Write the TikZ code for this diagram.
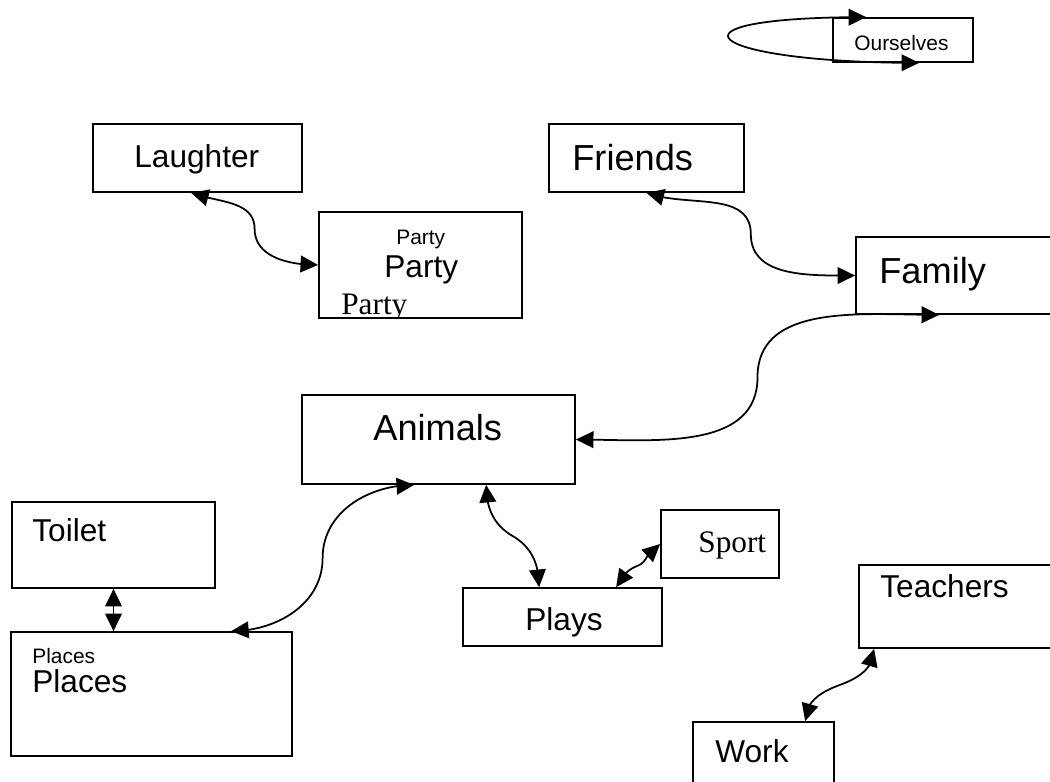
\documentclass[tikz,border=0pt]{standalone}
\usepackage{fontspec}
\newfontfamily\arialfont{Liberation Sans}
\newfontfamily\timesfont{Liberation Serif}
\usetikzlibrary{arrows.meta,bending,calc,fit}
\tikzset{
  box/.style={draw, line width=1pt, inner sep=0},
  txt/.style={inner sep=0, anchor=base west, font=\arialfont\fontsize{18}{21}\selectfont},
  bigtxt/.style={txt, font=\arialfont\fontsize{20.6}{24}\selectfont},
  smalltxt/.style={txt, font=\arialfont\fontsize{11.9}{14}\selectfont},
  sertxt/.style={txt, font=\timesfont\fontsize{17.8}{21}\selectfont},
  link/.style={line width=1pt, {Triangle[length=10pt,width=9.5pt]}-{Triangle[length=10pt,width=9.5pt]}},
}
\begin{document}
\begin{tikzpicture}[x=0.02cm,y=0.02cm]
\useasboundingbox (0,0) rectangle (1050,-781);
\clip (0,0) rectangle (1050,-781);
% boxes
\node[box, fit={(833,-18) (973,-62)}] (ourselves) {};
\node[box, fit={(93,-124) (302,-192)}] (laughter) {};
\node[box, fit={(319,-212) (522,-318)}] (party) {};
\node[box, fit={(549,-124) (744,-192)}] (friends) {};
\node[box, fit={(856,-237) (1070,-314)}] (family) {};
\node[box, fit={(302,-395) (575,-484)}] (animals) {};
\node[box, fit={(12,-502) (215,-588)}] (toilet) {};
\node[box, fit={(11,-632) (292,-756)}] (places) {};
\node[box, fit={(463,-588) (662,-646)}] (plays) {};
\node[box, fit={(661,-510) (779,-578)}] (sport) {};
\node[box, fit={(859,-565) (1070,-648)}] (teachers) {};
\node[box, fit={(693,-722) (834,-800)}] (work) {};
% texts
\node[smalltxt] (ourselvesTxt) at (854,-50) {Ourselves};
\node[txt] (laughterTxt) at (134,-167) {Laughter};
\node[smalltxt] (partyTxtA) at (396,-244) {Party};
\node[txt] (partyTxtB) at (384,-277) {Party};
\begin{scope}
\clip (party.south west) rectangle (party.north east);
\node[sertxt] (partyTxtC) at (341,-314) {Party};
\end{scope}
\node[bigtxt] (friendsTxt) at (572,-170) {Friends};
\node[bigtxt] (familyTxt) at (879,-283) {Family};
\node[bigtxt] (animalsTxt) at (373,-440) {Animals};
\node[txt] (toiletTxt) at (32,-541) {Toilet};
\node[smalltxt] (placesTxtA) at (32,-663) {Places};
\node[txt] (placesTxtB) at (32,-692) {Places};
\node[txt] (playsTxt) at (525,-630) {Plays};
\node[sertxt] (sportTxt) at (698,-552) {Sport};
\node[txt] (teachersTxt) at (880,-597) {Teachers};
\node[txt] (workTxt) at (715,-762) {Work};
% attach points
\coordinate (oursTop) at ($(ourselves.north west)+(34,0)$);
\coordinate (oursBot) at ($(ourselves.south west)+(87,0)$);
\coordinate (laughterBot) at ($(laughter.south west)+(99,0)$);
\coordinate (familyBot) at ($(family.south west)+(84,0)$);
\coordinate (animalsBotA) at ($(animals.south west)+(113,0)$);
\coordinate (animalsBotB) at ($(animals.south west)+(185,0)$);
\coordinate (placesTop) at ($(places.north west)+(221,0)$);
\coordinate (playsTopA) at ($(plays.north west)+(77,0)$);
\coordinate (playsTopB) at ($(plays.north west)+(154,0)$);
\coordinate (teachersBot) at ($(teachers.south west)+(16,0)$);
\coordinate (workTop) at ($(work.north west)+(113,0)$);
% connectors
\draw[link] (oursTop) to[out=180,in=180,looseness=7.9] (oursBot);
\draw[link] (laughterBot) to[out=-20,in=90] ($(laughterBot)!.5!(party.west)$) to[out=-90,in=180] (party.west);
\draw[link] (friends.south) to[out=-20,in=90] ($(friends.south)!.5!(family.west)$) to[out=-90,in=180] (family.west);
\draw[link] (familyBot) to[out=180,in=90] ($(familyBot)!.5!(animals.east)$) to[out=-90,in=0] (animals.east);
\draw[link] (animalsBotA) to[out=180,in=90] ($(animalsBotA)!.5!(placesTop)$) to[out=-90,in=0] (placesTop);
\draw[link] (animalsBotB) to[out=-90,in=150] ($(animalsBotB)!.5!(playsTopA)$) to[out=-30,in=90] (playsTopA);
\draw[link] (sport.west) to[out=180,in=20] ($(sport.west)!.5!(playsTopB)$) to[out=200,in=60] (playsTopB);
\draw[link] (toilet.south) -- (toilet.south |- places.north);
\draw[link] (teachersBot) to[out=-90,in=20] ($(teachersBot)!.5!(workTop)$) to[out=200,in=90] (workTop);
\end{tikzpicture}
\end{document}
